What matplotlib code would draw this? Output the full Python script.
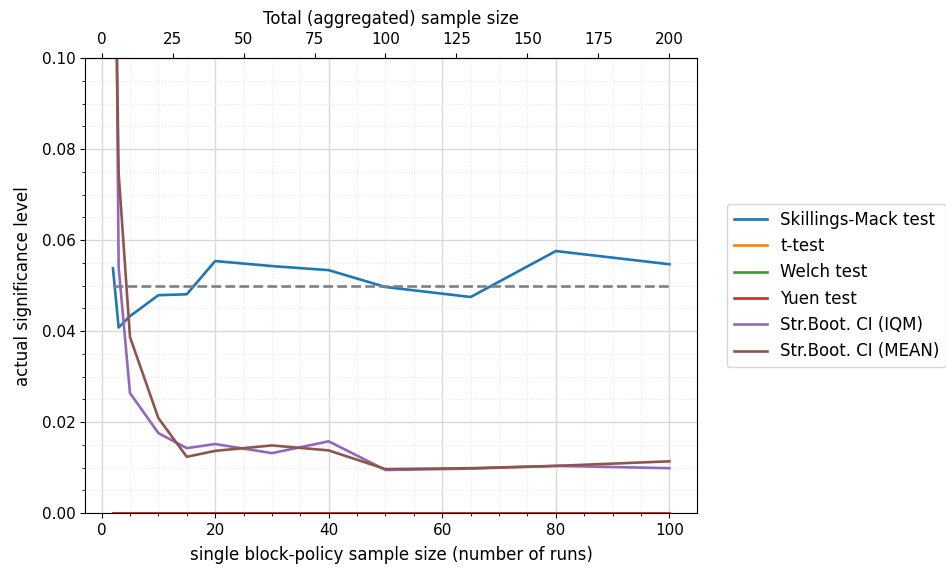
import matplotlib
matplotlib.use("Agg")
import matplotlib.pyplot as plt
from matplotlib.ticker import MultipleLocator

plt.rcParams['font.size'] = 11

sample_sizes = [2, 3, 5, 10, 15, 20, 30, 40, 50, 65, 80, 100]
skillings_mack = [0.0538, 0.0408, 0.0433, 0.0479, 0.0481, 0.0554, 0.0543, 0.0534, 0.0497, 0.0475, 0.0576, 0.0547]
t_test = [0.0] * 12
welch = [0.0] * 12
yuen = [0.0] * 12
boot_iqm = [0.20, 0.054, 0.0264, 0.0176, 0.0143, 0.0152, 0.0132, 0.0158, 0.0095, 0.0098, 0.0104, 0.0099]
boot_mean = [0.16, 0.0747, 0.0387, 0.0209, 0.0124, 0.0137, 0.0149, 0.0138, 0.0097, 0.0099, 0.0104, 0.0114]
alpha = 0.05

fig = plt.figure(figsize=(9.46, 5.69), dpi=100)
ax = fig.add_axes([0.090, 0.098, 0.647, 0.800])

ax.plot(sample_sizes, skillings_mack, color='#1f77b4', lw=1.9, label='Skillings-Mack test')
ax.plot(sample_sizes, t_test, color='#ff7f0e', lw=1.9, label='t-test')
ax.plot(sample_sizes, welch, color='#2ca02c', lw=1.9, label='Welch test')
ax.plot(sample_sizes, yuen, color='#d62728', lw=1.9, label='Yuen test')
ax.plot(sample_sizes, boot_iqm, color='#9467bd', lw=1.9, label='Str.Boot. CI (IQM)')
ax.plot(sample_sizes, boot_mean, color='#8c564b', lw=1.9, label='Str.Boot. CI (MEAN)')
ax.plot([sample_sizes[0], sample_sizes[-1]], [alpha, alpha], color='gray', ls='--', lw=1.9)

ax.set_ylim(0, 0.1)
ax.set_xlim(-2.9, 104.9)
ax.xaxis.set_minor_locator(MultipleLocator(5))
ax.yaxis.set_minor_locator(MultipleLocator(0.005))
ax.grid(which='major', color='#d9d9d9', lw=1.0)
ax.grid(which='minor', color='#e8e8e8', lw=0.8, ls=':')
ax.set_axisbelow(True)

ax.set_xlabel('single block-policy sample size (number of runs)', fontsize=12, labelpad=6)
ax.set_ylabel('actual significance level', fontsize=12, labelpad=7)

sec = ax.secondary_xaxis('top', functions=(lambda x: 2 * x, lambda x: x / 2))
sec.set_xlabel('Total (aggregated) sample size', fontsize=12, labelpad=6)
sec.xaxis.set_major_locator(MultipleLocator(25))
sec.tick_params(axis='x', pad=4.5)

ax.legend(loc='center left', bbox_to_anchor=(1.035, 0.5), fontsize=12)

fig.savefig('out.png', dpi=100)
